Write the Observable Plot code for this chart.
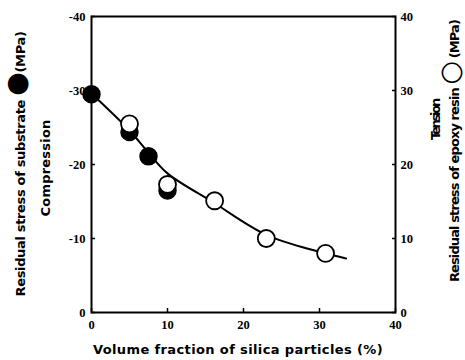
<!DOCTYPE html>
<html>
<head>
<meta charset="utf-8">
<script src="https://cdn.jsdelivr.net/npm/d3@7"></script>
<script src="https://cdn.jsdelivr.net/npm/@observablehq/plot@0.6"></script>
<style>
  html, body { margin: 0; padding: 0; background: #fff; }
  #chart { width: 465px; height: 360px; }
</style>
</head>
<body>
<div id="chart"></div>
<script>
// ---- data ----
const xTicks = [0, 10, 20, 30, 40];
const yTicks = [0, 10, 20, 30, 40];

// substrate (filled circles): compression, plotted as magnitude on the left axis
const substrateX = [0, 5, 7.5, 10];
const substrateY = [29.5, 24.4, 21.1, 16.5];

// epoxy resin (open circles): tension, right axis
const epoxyX = [5, 10, 16.2, 23, 30.8];
const epoxyY = [25.5, 17.3, 15.1, 10.0, 8.0];

// fitted curve, points
const curveX = [0, 5, 7.5, 10, 16, 23, 30, 33.5];
const curveY = [29.6, 24.6, 21.6, 18.8, 14.9, 10.5, 8.2, 7.3];

const substrate = substrateX.map((x, i) => ({x, y: substrateY[i]}));
const epoxy = epoxyX.map((x, i) => ({x, y: epoxyY[i]}));
const curve = curveX.map((x, i) => ({x, y: curveY[i]}));

const tickFont = "'Liberation Serif', 'Times New Roman', serif";
const titleFont = "'DejaVu Sans', sans-serif";

const axisText = {fontWeight: "bold", fontSize: 12.5, strokeWidth: 1.5};

const plot = Plot.plot({
  width: 465,
  height: 360,
  marginLeft: 91,
  marginRight: 70,
  marginTop: 16,
  marginBottom: 48,
  style: {background: "#fff", color: "#000"},
  x: {domain: [0, 40]},
  y: {domain: [0, 40]},
  marks: [
    Plot.frame({stroke: "#000", strokeWidth: 2}),
    Plot.axisX({ticks: xTicks, tickSize: -4, tickPadding: 12, label: null, ...axisText}),
    Plot.axisY({anchor: "left", ticks: yTicks, tickSize: -4, tickPadding: 10, label: null,
      tickFormat: d => d === 0 ? "0" : "-" + d, ...axisText}),
    Plot.axisY({anchor: "right", ticks: yTicks, tickSize: -4, tickPadding: 9, label: null, ...axisText}),
    Plot.line(curve, {x: "x", y: "y", curve: "catmull-rom", stroke: "#000", strokeWidth: 2}),
    Plot.dot(substrate, {x: "x", y: "y", r: 8.5, fill: "#000", stroke: "#000", strokeWidth: 1.5}),
    Plot.dot(epoxy, {x: "x", y: "y", r: 8.5, fill: "#fff", stroke: "#000", strokeWidth: 1.8})
  ]
});

document.getElementById("chart").appendChild(plot);

const svg = d3.select(plot);
// serif tick labels (all texts produced by Plot are tick labels)
svg.selectAll("text")
  .attr("font-family", null)
  .style("font-family", tickFont)
  .style("font-weight", "bold")
  .style("font-size", "12.5px");

// axis titles
function title(x, y, rot, len, parts) {
  const t = svg.append("text")
    .attr("transform", `translate(${x},${y}) rotate(${rot})`)
    .attr("text-anchor", "start")
    .style("font-family", titleFont)
    .style("font-weight", "bold")
    .style("font-size", "13px")
    .attr("fill", "#000");
  parts.forEach(p => {
    const s = t.append("tspan").text(p.text);
    if (p.size) s.style("font-size", p.size + "px");
  });
  const n = parts.reduce((a, p) => a + p.text.length, 0);
  let sp = 0;
  for (let k = 0; k < 3; k++) {
    const w = t.node().getBBox().width;
    sp += (len - w) / n;
    t.style("letter-spacing", sp + "px");
  }
  const b = t.node().getBBox();
  t.attr("x", -(b.x + b.width / 2));
}
title(25, 164, -90, 265, [{text: "Residual stress of substrate "}, {text: "●", size: 27}, {text: "(MPa)"}]);
title(50, 168, -90, 97, [{text: "Compression"}]);
title(440, 119, -90, 42, [{text: "Tension"}]);
title(459, 151, -90, 262, [{text: "Residual stress of epoxy resin "}, {text: "○", size: 27}, {text: " (MPa)"}]);
title(238, 354, 0, 290, [{text: "Volume fraction of silica particles (%)"}]);
</script>
</body>
</html>
